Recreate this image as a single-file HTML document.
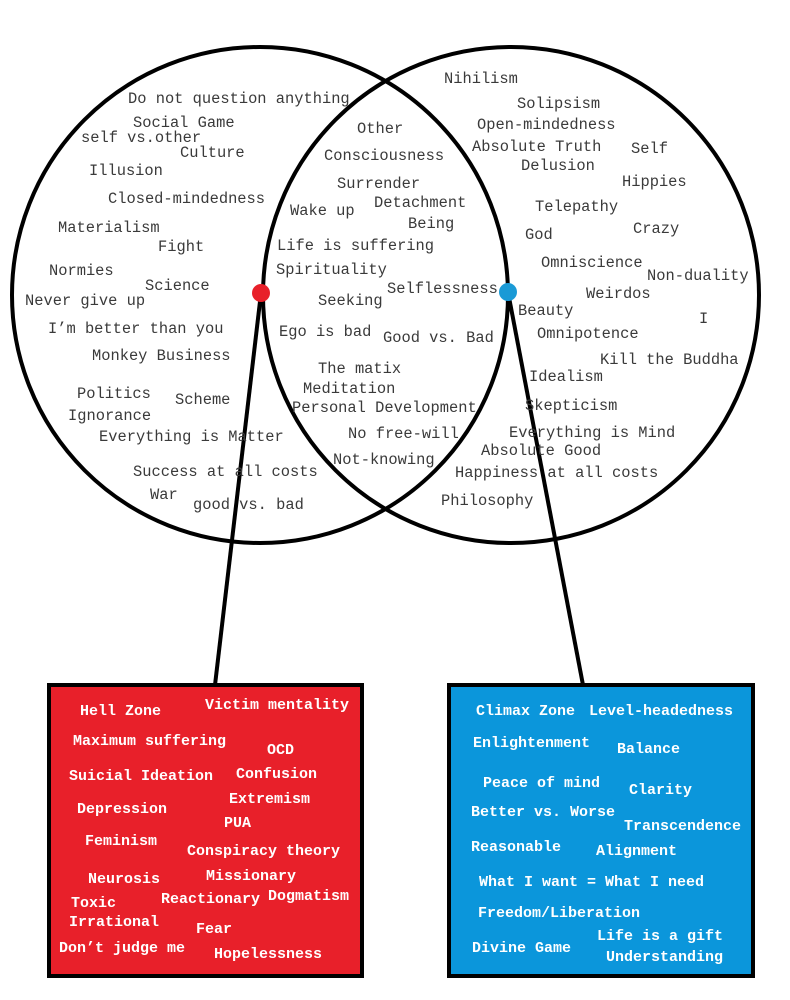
<!DOCTYPE html>
<html><head><meta charset="utf-8"><style>
html,body{margin:0;padding:0;background:#fff;}
#c{position:relative;width:790px;height:1000px;overflow:hidden;background:#fff;}
svg{position:absolute;left:0;top:0;}
.t{position:absolute;font-family:"Liberation Mono","Noto Sans CJK SC",monospace;font-size:15.4px;line-height:18px;color:#3a3a3a;white-space:pre;}
.w{color:#fff;font-weight:bold;font-size:15px;}
</style></head><body><div id="c">
<svg width="790" height="1000">
<circle cx="260" cy="295" r="248" fill="none" stroke="#000" stroke-width="4"/>
<circle cx="511" cy="295" r="248" fill="none" stroke="#000" stroke-width="4"/>
<rect x="49" y="685" width="313" height="291" fill="#e8202a" stroke="#000" stroke-width="4"/>
<rect x="449" y="685" width="304" height="291" fill="#0b96db" stroke="#000" stroke-width="4"/>
<line x1="261" y1="293" x2="215" y2="685" stroke="#000" stroke-width="4"/>
<line x1="508" y1="292" x2="583" y2="685" stroke="#000" stroke-width="4"/>
<circle cx="261" cy="293" r="9" fill="#e8202a"/>
<circle cx="508" cy="292" r="9" fill="#1a9ad6"/>
</svg>
<div class="t" style="left:128px;top:90px">Do not question anything</div>
<div class="t" style="left:133px;top:114px">Social Game</div>
<div class="t" style="left:81px;top:129px">self vs.other</div>
<div class="t" style="left:180px;top:144px">Culture</div>
<div class="t" style="left:89px;top:162px">Illusion</div>
<div class="t" style="left:108px;top:190px">Closed-mindedness</div>
<div class="t" style="left:58px;top:219px">Materialism</div>
<div class="t" style="left:158px;top:238px">Fight</div>
<div class="t" style="left:49px;top:262px">Normies</div>
<div class="t" style="left:145px;top:277px">Science</div>
<div class="t" style="left:25px;top:292px">Never give up</div>
<div class="t" style="left:48px;top:320px">I’m better than you</div>
<div class="t" style="left:92px;top:347px">Monkey Business</div>
<div class="t" style="left:77px;top:385px">Politics</div>
<div class="t" style="left:175px;top:391px">Scheme</div>
<div class="t" style="left:68px;top:407px">Ignorance</div>
<div class="t" style="left:99px;top:428px">Everything is Matter</div>
<div class="t" style="left:133px;top:463px">Success at all costs</div>
<div class="t" style="left:150px;top:486px">War</div>
<div class="t" style="left:193px;top:496px">good vs. bad</div>

<div class="t" style="left:357px;top:120px">Other</div>
<div class="t" style="left:324px;top:147px">Consciousness</div>
<div class="t" style="left:337px;top:175px">Surrender</div>
<div class="t" style="left:290px;top:202px">Wake up</div>
<div class="t" style="left:374px;top:194px">Detachment</div>
<div class="t" style="left:408px;top:215px">Being</div>
<div class="t" style="left:277px;top:237px">Life is suffering</div>
<div class="t" style="left:276px;top:261px">Spirituality</div>
<div class="t" style="left:318px;top:292px">Seeking</div>
<div class="t" style="left:387px;top:280px">Selflessness</div>
<div class="t" style="left:279px;top:323px">Ego is bad</div>
<div class="t" style="left:383px;top:329px">Good vs. Bad</div>
<div class="t" style="left:318px;top:360px">The matix</div>
<div class="t" style="left:303px;top:380px">Meditation</div>
<div class="t" style="left:292px;top:399px">Personal Development</div>
<div class="t" style="left:348px;top:425px">No free-will</div>
<div class="t" style="left:333px;top:451px">Not-knowing</div>

<div class="t" style="left:444px;top:70px">Nihilism</div>
<div class="t" style="left:517px;top:95px">Solipsism</div>
<div class="t" style="left:477px;top:116px">Open-mindedness</div>
<div class="t" style="left:472px;top:138px">Absolute Truth</div>
<div class="t" style="left:631px;top:140px">Self</div>
<div class="t" style="left:521px;top:157px">Delusion</div>
<div class="t" style="left:622px;top:173px">Hippies</div>
<div class="t" style="left:535px;top:198px">Telepathy</div>
<div class="t" style="left:525px;top:226px">God</div>
<div class="t" style="left:633px;top:220px">Crazy</div>
<div class="t" style="left:541px;top:254px">Omniscience</div>
<div class="t" style="left:647px;top:267px">Non-duality</div>
<div class="t" style="left:586px;top:285px">Weirdos</div>
<div class="t" style="left:518px;top:302px">Beauty</div>
<div class="t" style="left:699px;top:310px">I</div>
<div class="t" style="left:537px;top:325px">Omnipotence</div>
<div class="t" style="left:600px;top:351px">Kill the Buddha</div>
<div class="t" style="left:529px;top:368px">Idealism</div>
<div class="t" style="left:525px;top:397px">Skepticism</div>
<div class="t" style="left:509px;top:424px">Everything is Mind</div>
<div class="t" style="left:481px;top:442px">Absolute Good</div>
<div class="t" style="left:455px;top:464px">Happiness at all costs</div>
<div class="t" style="left:441px;top:492px">Philosophy</div>

<div class="t w" style="left:80px;top:703px">Hell Zone</div>
<div class="t w" style="left:205px;top:697px">Victim mentality</div>
<div class="t w" style="left:73px;top:733px">Maximum suffering</div>
<div class="t w" style="left:267px;top:742px">OCD</div>
<div class="t w" style="left:69px;top:768px">Suicial Ideation</div>
<div class="t w" style="left:236px;top:766px">Confusion</div>
<div class="t w" style="left:229px;top:791px">Extremism</div>
<div class="t w" style="left:77px;top:801px">Depression</div>
<div class="t w" style="left:224px;top:815px">PUA</div>
<div class="t w" style="left:85px;top:833px">Feminism</div>
<div class="t w" style="left:187px;top:843px">Conspiracy theory</div>
<div class="t w" style="left:88px;top:871px">Neurosis</div>
<div class="t w" style="left:206px;top:868px">Missionary</div>
<div class="t w" style="left:71px;top:895px">Toxic</div>
<div class="t w" style="left:161px;top:891px">Reactionary</div>
<div class="t w" style="left:268px;top:888px">Dogmatism</div>
<div class="t w" style="left:69px;top:914px">Irrational</div>
<div class="t w" style="left:196px;top:921px">Fear</div>
<div class="t w" style="left:59px;top:940px">Don’t judge me</div>
<div class="t w" style="left:214px;top:946px">Hopelessness</div>

<div class="t w" style="left:476px;top:703px">Climax Zone</div>
<div class="t w" style="left:589px;top:703px">Level-headedness</div>
<div class="t w" style="left:473px;top:735px">Enlightenment</div>
<div class="t w" style="left:617px;top:741px">Balance</div>
<div class="t w" style="left:483px;top:775px">Peace of mind</div>
<div class="t w" style="left:629px;top:782px">Clarity</div>
<div class="t w" style="left:471px;top:804px">Better vs. Worse</div>
<div class="t w" style="left:624px;top:818px">Transcendence</div>
<div class="t w" style="left:471px;top:839px">Reasonable</div>
<div class="t w" style="left:596px;top:843px">Alignment</div>
<div class="t w" style="left:479px;top:874px">What I want = What I need</div>
<div class="t w" style="left:478px;top:905px">Freedom/Liberation</div>
<div class="t w" style="left:472px;top:940px">Divine Game</div>
<div class="t w" style="left:597px;top:928px">Life is a gift</div>
<div class="t w" style="left:606px;top:949px">Understanding</div>
</div></body></html>
